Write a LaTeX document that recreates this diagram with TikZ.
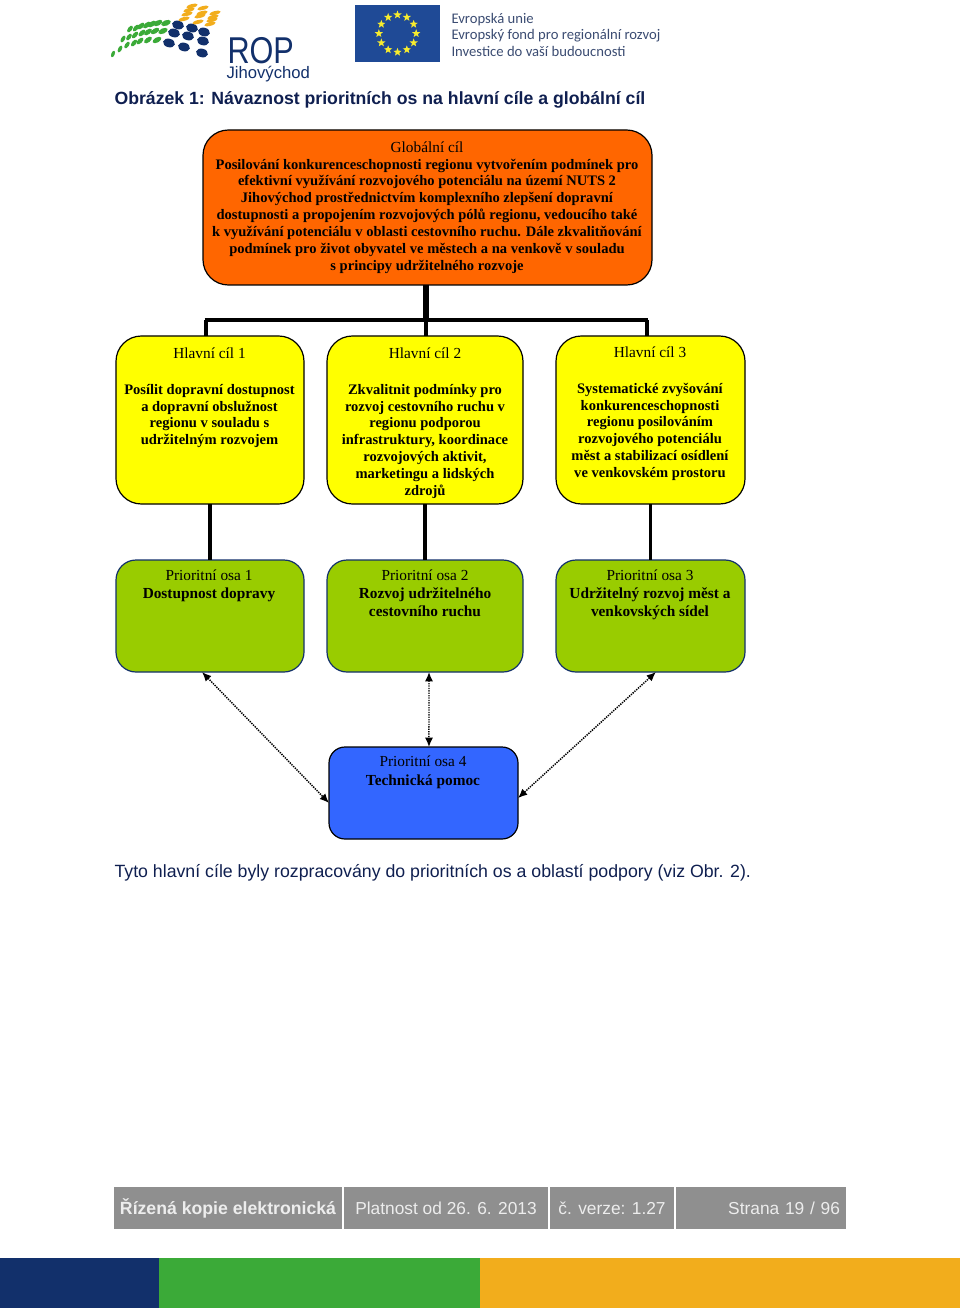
\documentclass[tikz,border=0pt]{standalone}
\usepackage{fontspec}
\setmainfont{Liberation Serif}
\setsansfont{Liberation Sans}
\newfontfamily\logofont{Carlito}
\usetikzlibrary{shapes.geometric,arrows.meta}

\definecolor{navy}{HTML}{12306B}
\definecolor{titlenavy}{HTML}{0F1F50}
\definecolor{logogreen}{HTML}{3BAA38}
\definecolor{logoorange}{HTML}{F2AD1C}
\definecolor{flagblue}{HTML}{1F4A96}
\definecolor{flagstar}{HTML}{F7EC2E}
\definecolor{globfill}{HTML}{FF6600}
\definecolor{goalfill}{RGB}{255,255,0}
\definecolor{osafill}{HTML}{99CC00}
\definecolor{tafill}{HTML}{3366FF}
\definecolor{footgrey}{HTML}{8F8F8F}
\definecolor{logotext}{HTML}{3B4C72}

\newcommand{\hd}[1]{{\fontsize{11.5pt}{12.6pt}\selectfont #1}}

\tikzset{
  goalbox/.style={draw=black, line width=0.9pt, rounded corners=19pt, inner sep=0pt, outer sep=0pt},
  osabox/.style={draw=navy, line width=0.9pt, fill=osafill, rounded corners=15pt, inner sep=0pt, outer sep=0pt},
  goaltext/.style={align=center, inner sep=0pt, anchor=north, font=\fontsize{10.9pt}{12.65pt}\selectfont},
  osatext/.style={align=center, inner sep=0pt, anchor=north, font=\fontsize{11.5pt}{13.6pt}\selectfont},
  foot/.style={fill=footgrey, text=white!93!black, inner sep=0pt, outer sep=0pt,
    minimum height=31.5pt, font=\sffamily\fontsize{13pt}{15pt}\selectfont},
  eutext/.style={anchor=base west, inner sep=0pt, text=logotext, font=\logofont\fontsize{11pt}{13pt}\selectfont},
  sheettext/.style={anchor=base west, inner sep=0pt, text=titlenavy, font=\sffamily\fontsize{13.3pt}{15pt}\selectfont},
  bar/.style={black, line width=2.7pt},
  dotarrow/.style={{Latex[length=7pt,width=6pt]}-{Latex[length=7pt,width=6pt]}, black, line width=1.1pt,
    dash pattern=on 1pt off 0.8pt},
  eustar/.style={star, star points=5, star point ratio=2.4, fill=flagstar, inner sep=0pt, minimum size=6.5pt}
}

\begin{document}
\begin{tikzpicture}[thick, x=0.75pt, y=-0.75pt]
  \useasboundingbox (0,0) rectangle (960,1308);

  % logo
  \foreach \x/\y in {130/29,136/28,141/26,147/25,152/24,158/23,166/23,
                     123/39,129/37,135/35,142/33,148/32,155/31,163/31,
                     113/54,120/49,127/45,134/43,140/41,148/40,157/40}{
    \pgfmathsetmacro{\ang}{68-(\x-114)*0.9}
    \pgfmathsetmacro{\rad}{2.8+(\x-114)*0.03}
    \fill[logogreen, rotate around={\ang:(\x,\y)}] (\x,\y) ellipse (\rad+0.7 and \rad*0.62);
  }
  \foreach \x/\y in {178/25,192/28,204/32,174/33,188/36,203/41,169/43,184/47,202/53}
    \fill[navy, rotate around={-14:(\x,\y)}] (\x,\y) ellipse (6 and 4.3);
  \foreach \x/\y in {192/6,189/10,187/14,184/19,203/8,202/13,200/16,198/22,215/13,213/17,212/20,210/24}
    \fill[logoorange, rotate around={14:(\x,\y)}] (\x,\y) ellipse (5.8 and 1.9);
  \node[anchor=base west, inner sep=0pt, text=navy, font=\sffamily\fontsize{28pt}{28pt}\selectfont] (rop) at (227,64) {\scalebox{0.82}[1]{ROP}};
  \node[anchor=base west, inner sep=0pt, text=navy, font=\sffamily\fontsize{12.5pt}{12.5pt}\selectfont] (jihovychod) at (226,79) {Jihovýchod};

  % flag
  \node[fill=flagblue, minimum width=63.75pt, minimum height=42.75pt, inner sep=0pt] (flag) at (397.5,33.5) {};
  \foreach \a in {0,30,...,330}
    \node[eustar] (star\a) at ([shift={(flag.center)}]\a:14pt) {};
  \node[eutext] (eu1) at (451,24) {Evropská unie};
  \node[eutext] (eu2) at (451,40) {Evropský fond pro regionální rozvoj};
  \node[eutext] (eu3) at (451,57) {Investice do vaší budoucnosti};

  \node[sheettext, font=\sffamily\bfseries\fontsize{13.25pt}{15pt}\selectfont] (title) at (114,105)
    {Obrázek 1: Návaznost prioritních os na hlavní cíle a globální cíl};

  % goals
  \node[goalbox, fill=globfill, minimum width=336.75pt, minimum height=116.25pt] (glob) at (427.5,207.5) {};
  \node[goalbox, fill=goalfill, minimum width=141pt, minimum height=126pt] (goal1) at (210,420) {};
  \node[goalbox, fill=goalfill, minimum width=147pt, minimum height=126pt] (goal2) at (425,420) {};
  \node[goalbox, fill=goalfill, minimum width=141.75pt, minimum height=126pt] (goal3) at (650.5,420) {};

  % priority axes
  \node[osabox, minimum width=141pt, minimum height=84pt] (osa1) at (210,616) {};
  \node[osabox, minimum width=147pt, minimum height=84pt] (osa2) at (425,616) {};
  \node[osabox, minimum width=141.75pt, minimum height=84pt] (osa3) at (650.5,616) {};
  \node[draw=black, line width=0.9pt, fill=tafill, rounded corners=12pt, inner sep=0pt, outer sep=0pt,
    minimum width=141.75pt, minimum height=69pt] (osa4) at (423.5,793) {};

  \node[goaltext] (globtxt) at (427,141) {\hd{Globální cíl}\\
    \textbf{Posilování konkurenceschopnosti regionu vytvořením podmínek pro}\\
    \textbf{efektivní využívání rozvojového potenciálu na území NUTS 2}\\
    \textbf{Jihovýchod prostřednictvím komplexního zlepšení dopravní}\\
    \textbf{dostupnosti a propojením rozvojových pólů regionu, vedoucího také}\\
    \textbf{k využívání potenciálu v oblasti cestovního ruchu. Dále zkvalitňování}\\
    \textbf{podmínek pro život obyvatel ve městech a na venkově v souladu}\\
    \textbf{s principy udržitelného rozvoje}};

  \node[goaltext] (goal1txt) at (209.5,347) {\hd{Hlavní cíl 1}\\[14.4pt]
    \textbf{Posílit dopravní dostupnost}\\\textbf{a dopravní obslužnost}\\
    \textbf{regionu v souladu s}\\\textbf{udržitelným rozvojem}};
  \node[goaltext] (goal2txt) at (425,347) {\hd{Hlavní cíl 2}\\[14.4pt]
    \textbf{Zkvalitnit podmínky pro}\\\textbf{rozvoj cestovního ruchu v}\\
    \textbf{regionu podporou}\\\textbf{infrastruktury, koordinace}\\
    \textbf{rozvojových aktivit,}\\\textbf{marketingu a lidských}\\\textbf{zdrojů}};
  \node[goaltext] (goal3txt) at (650,346) {\hd{Hlavní cíl 3}\\[14.4pt]
    \textbf{Systematické zvyšování}\\\textbf{konkurenceschopnosti}\\
    \textbf{regionu posilováním}\\\textbf{rozvojového potenciálu}\\
    \textbf{měst a stabilizací osídlení}\\\textbf{ve venkovském prostoru}};

  \node[osatext] (osa1txt) at (209,569) {Prioritní osa 1\\\textbf{Dostupnost dopravy}};
  \node[osatext] (osa2txt) at (425,569) {Prioritní osa 2\\\textbf{Rozvoj udržitelného}\\\textbf{cestovního ruchu}};
  \node[osatext] (osa3txt) at (650,569) {Prioritní osa 3\\\textbf{Udržitelný rozvoj měst a}\\\textbf{venkovských sídel}};
  \node[osatext, font=\fontsize{11.5pt}{14.1pt}\selectfont] (osa4txt) at (423,755) {Prioritní osa 4\\\textbf{Technická pomoc}};

  % tree above the goals
  \coordinate (busl) at (206,320);
  \coordinate (busm) at (426,320);
  \coordinate (busr) at (647,320);
  \draw[black, line width=4.5pt] (busm |- glob.south) -- (busm);
  \draw[bar] ([xshift=-1.1pt]busl) -- ([xshift=1.1pt]busr);
  \draw[bar] (busl) -- (busl |- goal1.north);
  \draw[bar] (busm) -- (busm |- goal2.north);
  \draw[bar] (busr) -- (busr |- goal3.north);

  \path[bar]
    (goal1) edge (osa1)
    (goal2) edge (osa2)
    (goal3) edge (osa3);

  \draw[dotarrow] ([xshift=-6pt]osa1.south) -- ([yshift=-7.5pt]osa4.west);
  \draw[dotarrow] ([xshift=3pt]osa2.south) -- ([xshift=4.1pt]osa4.north);
  \draw[dotarrow] ([xshift=4.1pt]osa3.south) -- ([yshift=-3.8pt]osa4.east);

  \node[sheettext] (closing) at (114,877)
    {Tyto hlavní cíle byly rozpracovány do prioritních os a oblastí podpory (viz Obr. 2).};

  % footer
  \node[foot, minimum width=171pt, font=\sffamily\bfseries\fontsize{13.25pt}{15pt}\selectfont] (foot1) at (228,1208) {Řízená kopie elektronická};
  \node[foot, minimum width=153pt] (foot2) at (446,1208) {Platnost od 26. 6. 2013};
  \node[foot, minimum width=93pt] (foot3) at (612,1208) {č. verze: 1.27};
  \node[foot, text width=118.5pt, inner xsep=4.5pt, align=right] (foot4) at (761,1208) {Strana 19 / 96};

  \fill[navy] (0,1258) rectangle (159,1308);
  \fill[logogreen] (159,1258) rectangle (480,1308);
  \fill[logoorange] (480,1258) rectangle (960,1308);
\end{tikzpicture}
\end{document}
